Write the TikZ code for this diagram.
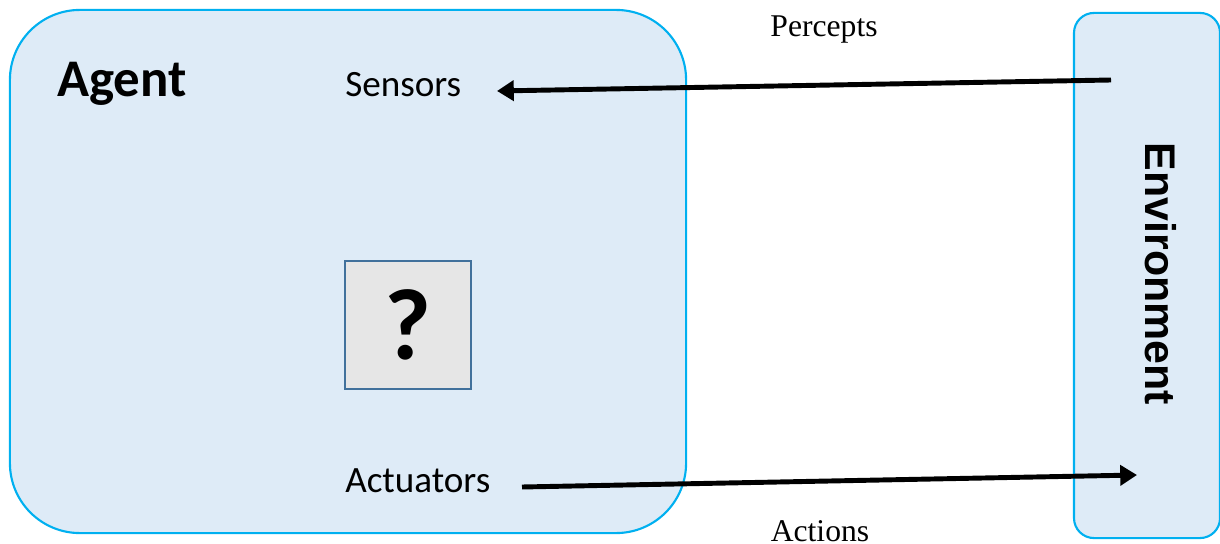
\documentclass[tikz,border=0pt]{standalone}
\usepackage{fontspec}
\setmainfont{Carlito}
\newfontfamily\serifface{Liberation Serif}
\newfontfamily\envface{Liberation Sans}
\usetikzlibrary{arrows.meta}
\definecolor{panelfill}{HTML}{DEEBF7}
\definecolor{panelline}{HTML}{00B0F0}
\definecolor{qfill}{HTML}{E6E6E6}
\definecolor{qline}{HTML}{41719C}
\tikzset{
  panel/.style={draw=panelline, fill=panelfill, line width=1.5pt, inner sep=0pt},
  part/.style={inner sep=0pt, anchor=base west, font=\fontsize{26.4}{30}\selectfont},
  flowlabel/.style={inner sep=0pt, anchor=base, font=\serifface\fontsize{22.5}{26}\selectfont},
  flow/.style={line width=3.5pt, -{Triangle[length=0.42cm,width=0.5cm]}},
}
\begin{document}
\begin{tikzpicture}[x=0.025cm,y=-0.025cm]
\useasboundingbox (0,0) rectangle (1220,544);

% agent and environment panels
\node[panel, rounded corners=1.75cm, minimum width=16.9cm, minimum height=13.075cm] (agent) at (348,271.5) {};
\node[panel, rounded corners=0.5cm, minimum width=3.65cm, minimum height=13.125cm] (env) at (1147,275.5) {};

% labels inside the agent
\node[inner sep=0pt, anchor=base west, font=\bfseries\fontsize{37.6}{42}\selectfont] (agentlabel) at (57,97) {Agent};
\node[part] (sensors) at (345,97) {Sensors};
\node[part] (actuators) at (345,492) {Actuators};

% unknown agent program
\node[draw=qline, fill=qfill, line width=1.4pt, minimum width=3.15cm, minimum height=3.2cm,
      font=\bfseries\fontsize{72}{76}\selectfont] (program) at (408,325) {?};

% environment label
\node[rotate=-90, inner sep=0pt, font=\envface\bfseries\fontsize{30.5}{34}\selectfont] (envlabel) at (1160.5,274) {Environment};

% percepts and actions
\coordinate (pstart) at (1111,80);
\coordinate (ptip) at (497,91);
\coordinate (astart) at (522,487);
\coordinate (atip) at (1137,475);
\draw[flow] (pstart) -- (ptip);
\draw[flow] (astart) -- (atip);
\node[flowlabel] (percepts) at (824,37) {Percepts};
\node[flowlabel] (actions) at (820,541) {Actions};
\end{tikzpicture}
\end{document}
